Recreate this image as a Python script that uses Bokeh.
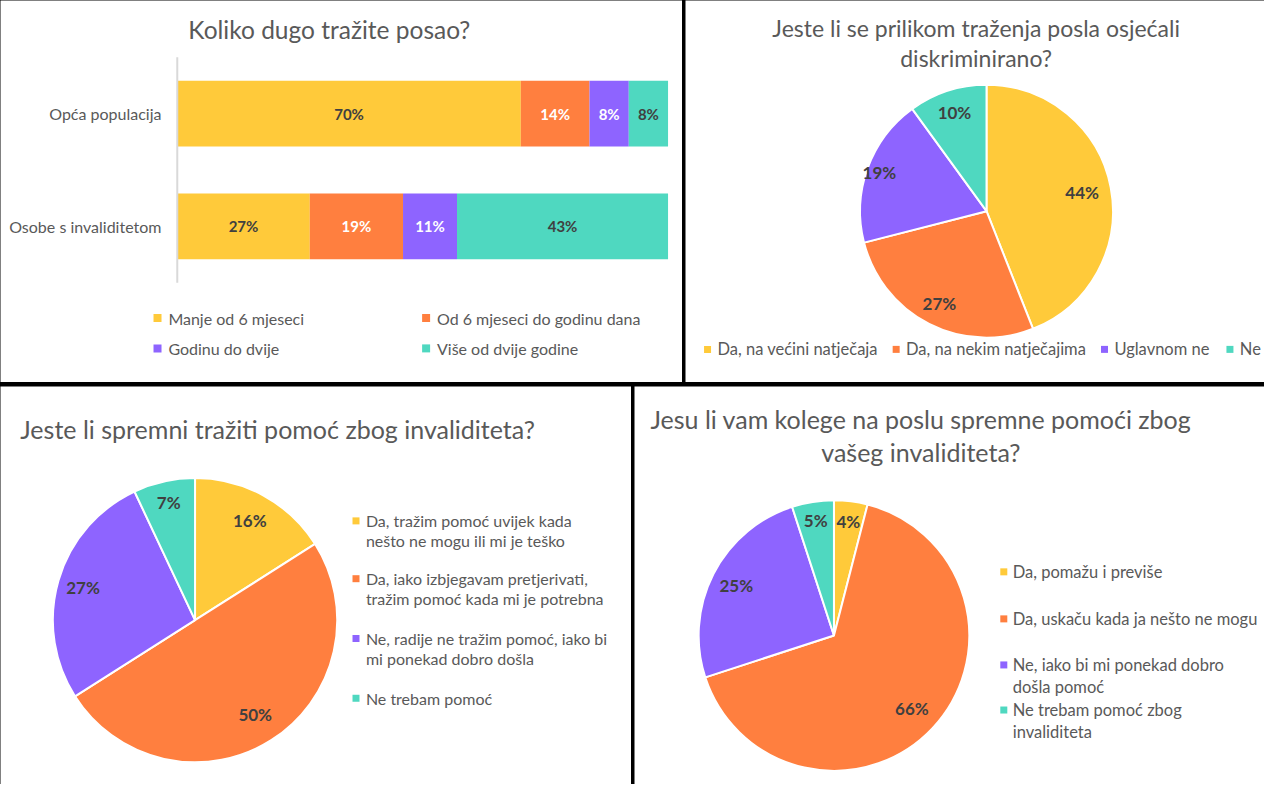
import math
from bokeh.plotting import figure
from bokeh.layouts import row, column
from bokeh.models import Range1d, ColumnDataSource
from bokeh.core.properties import value
from bokeh.embed import file_html
from bokeh.resources import INLINE

# ---------------- data ----------------
bar_title = "Koliko dugo tražite posao?"
bar_categories = ["Opća populacija", "Osobe s invaliditetom"]
bar_series = ["Manje od 6 mjeseci", "Od 6 mjeseci do godinu dana", "Godinu do dvije", "Više od dvije godine"]
bar_opca = [70, 14, 8, 8]
bar_osobe = [27, 19, 11, 43]

disc_title = ["Jeste li se prilikom traženja posla osjećali", "diskriminirano?"]
disc_labels = ["Da, na većini natječaja", "Da, na nekim natječajima", "Uglavnom ne", "Ne"]
disc_values = [44, 27, 19, 10]

help_title = ["Jeste li spremni tražiti pomoć zbog invaliditeta?"]
help_labels = ["Da, tražim pomoć uvijek kada\nnešto ne mogu ili mi je teško",
               "Da, iako izbjegavam pretjerivati,\ntražim pomoć kada mi je potrebna",
               "Ne, radije ne tražim pomoć, iako bi\nmi ponekad dobro došla",
               "Ne trebam pomoć"]
help_values = [16, 50, 27, 7]

coll_title = ["Jesu li vam kolege na poslu spremne pomoći zbog", "vašeg invaliditeta?"]
coll_labels = ["Da, pomažu i previše",
               "Da, uskaču kada ja nešto ne mogu",
               "Ne, iako bi mi ponekad dobro\ndošla pomoć",
               "Ne trebam pomoć zbog\ninvaliditeta"]
coll_values = [4, 66, 25, 5]

# ---------------- style ----------------
COLORS = ["#FFCA3A", "#FF7F3F", "#8E64FF", "#4FD8C0"]
FONT = "Lato"
GREY = "#595959"
DARK = "#404040"
SX = 1264 / 1280
SY = 784 / 800
SR = 0.984


def panel(w, h, xr=None):
    p = figure(width=w, height=h,
               x_range=xr if xr is not None else Range1d(0, w),
               y_range=Range1d(0, h),
               x_axis_type=None, y_axis_type=None, toolbar_location=None,
               output_backend="svg", min_border=0, outline_line_color=None,
               background_fill_color="white", border_fill_color="white")
    p.title.visible = False
    return p


def txt(p, x, y, t, size, color=GREY, align="left", baseline="middle", bold=False):
    p.text(x=[x], y=[y], text=[t], text_font=value(FONT), text_font_size=f"{size}px",
           text_color=color, text_align=align, text_baseline=baseline,
           text_font_style="bold" if bold else "normal")


# ================= top-left: stacked bar =================
W1, H1, X01, Y01 = 682, 382, 0, 0
bx0 = 179 * SX
bx1 = 676 * SX
span = bx1 - bx0


def pxp(xr):
    return (xr * SX - X01 - bx0) / span * 100


def ly1(yr):
    return H1 - (yr * SY - Y01)


p1 = panel(W1, H1, Range1d(-bx0 / span * 100, (W1 - bx0) / span * 100))
cat_y = [ly1(115.5), ly1(230.5)]
bar_h = 67 * SY
rows = [bar_opca, bar_osobe]
label_colors = [DARK, "white", "white", DARK]
for j, name in enumerate(bar_series):
    lefts = [sum(r[:j]) for r in rows]
    rights = [sum(r[:j + 1]) for r in rows]
    vals = [r[j] for r in rows]
    src = ColumnDataSource(dict(y=cat_y, left=lefts, right=rights,
                                mid=[(a + b) / 2 for a, b in zip(lefts, rights)],
                                lab=[f"{v}%" for v in vals]))
    p1.hbar(y="y", left="left", right="right", height=bar_h, source=src,
            fill_color=COLORS[j], line_color=None)
    p1.text(x="mid", y="y", text="lab", source=src, text_font=value(FONT),
            text_font_size="15px", text_font_style="bold", text_color=label_colors[j],
            text_align="center", text_baseline="middle")

p1.segment(x0=[0], y0=[ly1(58)], x1=[0], y1=[ly1(288)], line_color="#D9D9D9", line_width=2)
for c, yy in zip(bar_categories, cat_y):
    txt(p1, pxp(163), yy, c, 16, align="right")
txt(p1, pxp(333), ly1(30), bar_title, 24.5, align="center")
leg_pos = [(159, 324), (431, 324), (159, 355), (431, 355)]
for j, name in enumerate(bar_series):
    mx, my = leg_pos[j]
    p1.scatter(x=[pxp(mx)], y=[ly1(my)], marker="square", size=8,
               fill_color=COLORS[j], line_color=None)
    txt(p1, pxp(mx + 11), ly1(my), name, 16)


# ================= pie helper =================
def pie(p, cx, cy, r, values, fracs):
    cum = 0
    starts, ends, lx, lyy, labs = [], [], [], [], []
    for v, f in zip(values, fracs):
        a0 = math.pi / 2 - 2 * math.pi * cum / 100
        a1 = math.pi / 2 - 2 * math.pi * (cum + v) / 100
        m = math.pi / 2 - 2 * math.pi * (cum + v / 2) / 100
        starts.append(a0)
        ends.append(a1)
        lx.append(cx + f * r * math.cos(m))
        lyy.append(cy + f * r * math.sin(m))
        labs.append(f"{v}%")
        cum += v
    src = ColumnDataSource(dict(s=starts, e=ends, c=COLORS[:len(values)],
                                lx=lx, ly=lyy, lab=labs))
    p.wedge(x=cx, y=cy, radius=r, start_angle="s", end_angle="e", direction="clock",
            fill_color="c", line_color="white", line_width=2, source=src)
    p.text(x="lx", y="ly", text="lab", source=src, text_font=value(FONT),
           text_font_size="17px", text_font_style="bold", text_color=DARK,
           text_align="center", text_baseline="middle")


def legend_block(p, xm, xt, ys, labels, gap, size, conv_x, conv_y):
    for j, lab in enumerate(labels):
        p.scatter(x=[conv_x(xm)], y=[conv_y(ys[j])], marker="square", size=7,
                  fill_color=COLORS[j], line_color=None)
        for k, line in enumerate(lab.split("\n")):
            txt(p, conv_x(xt), conv_y(ys[j] + k * gap), line, size)


# ================= top-right: pie =================
W2, H2, X02, Y02 = 579, 382, 685, 0
cx2 = lambda xr: xr * SX - X02
cy2 = lambda yr: H2 - (yr * SY - Y02)
p2 = panel(W2, H2)
txt(p2, cx2(988), cy2(28), disc_title[0], 23, align="center")
txt(p2, cx2(988), cy2(59), disc_title[1], 23, align="center")
pie(p2, cx2(998.5), cy2(215), 128.5 * SR, disc_values, [0.77, 0.82, 0.9, 0.82])
leg2_x = [716, 907, 1118, 1245]
for j, lab in enumerate(disc_labels):
    p2.scatter(x=[cx2(leg2_x[j])], y=[cy2(356)], marker="square", size=7,
               fill_color=COLORS[j], line_color=None)
    txt(p2, cx2(leg2_x[j] + 10), cy2(356), lab, 16.5)

# ================= bottom-left: pie =================
W3, H3, X03, Y03 = 631, 398, 0, 386
cx3 = lambda xr: xr * SX - X03
cy3 = lambda yr: H3 - (yr * SY - Y03)
p3 = panel(W3, H3)
txt(p3, cx3(20), cy3(437), help_title[0], 25)
pie(p3, cx3(197), cy3(632.3), 144.5 * SR, help_values, [0.8, 0.79, 0.82, 0.85])
legend_block(p3, 360, 370, [531, 590, 651, 712], help_labels, 20.5, 16, cx3, cy3)

# ================= bottom-right: pie =================
W4, H4, X04, Y04 = 630, 398, 634, 386
cx4 = lambda xr: xr * SX - X04
cy4 = lambda yr: H4 - (yr * SY - Y04)
p4 = panel(W4, H4)
txt(p4, cx4(932), cy4(427), coll_title[0], 25, align="center")
txt(p4, cx4(932), cy4(461), coll_title[1], 25, align="center")
pie(p4, cx4(844), cy4(648), 137.5 * SR, coll_values, [0.85, 0.79, 0.81, 0.86])
legend_block(p4, 1016, 1025, [583, 631, 678, 724], coll_labels, 22, 16.5, cx4, cy4)

top = row(p1, p2, spacing=3, styles={"background-color": "black"})
bot = row(p3, p4, spacing=3, styles={"background-color": "black"})
lay = column(top, bot, spacing=4, styles={"background-color": "black"})

open("out.html", "w").write(file_html(lay, INLINE))
